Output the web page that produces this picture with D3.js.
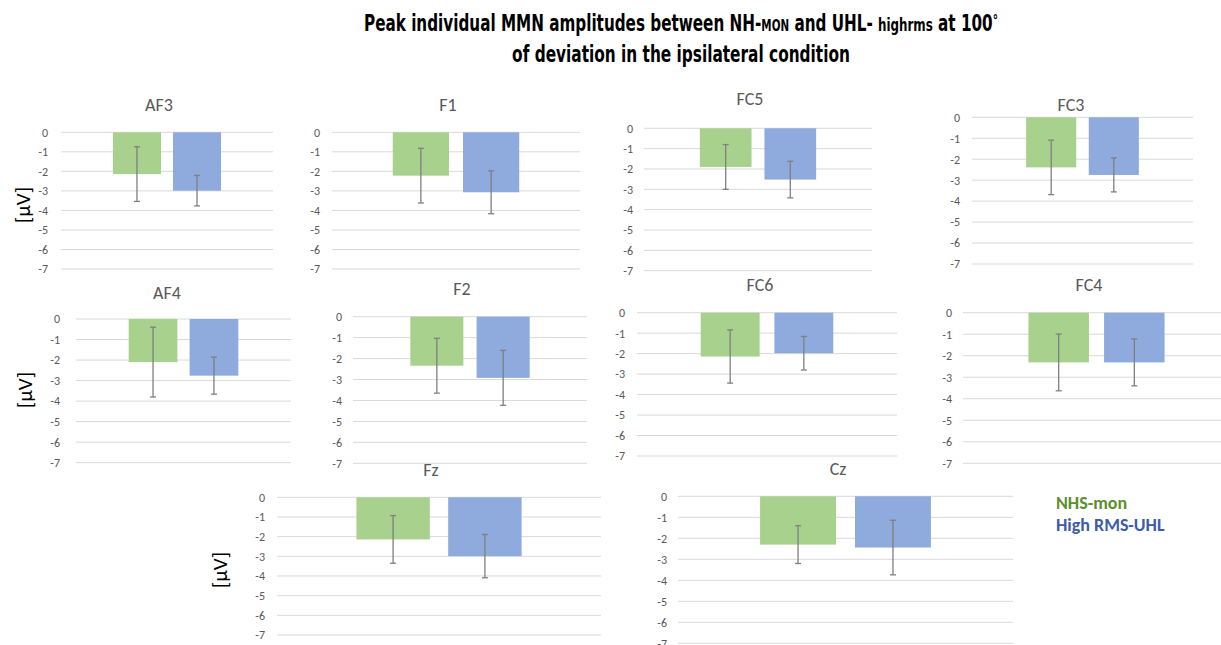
<!DOCTYPE html>
<html>
<head>
<meta charset="utf-8">
<script src="https://cdn.jsdelivr.net/npm/d3@7"></script>
<style>
  html, body { margin: 0; padding: 0; background: #fff; }
  svg { display: block; }
</style>
</head>
<body>
<svg id="chart" width="1221" height="645"></svg>
<script>
// ---------------- DATA ----------------
const electrodes = ["AF3", "F1", "FC5", "FC3", "AF4", "F2", "FC6", "FC4", "Fz", "Cz"];
const series = ["NHS-mon", "High RMS-UHL"];
const nhsMon     = [-2.14, -2.22, -1.90, -2.39, -2.10, -2.34, -2.14, -2.31, -2.14, -2.30];
const nhsMonErr  = [ 1.40,  1.40,  1.10,  1.30,  1.70,  1.31,  1.30,  1.32,  1.21,  0.90];
const highRms    = [-2.99, -3.07, -2.52, -2.75, -2.76, -2.92, -1.98, -2.31, -2.99, -2.44];
const highRmsErr = [ 0.78,  1.10,  0.90,  0.81,  0.90,  1.31,  0.82,  1.09,  1.10,  1.30];
const yTicks = [0, -1, -2, -3, -4, -5, -6, -7];
const yLabel = "[μV]";
const titleParts = [
  { t: "Peak individual MMN amplitudes between NH-", s: 1 },
  { t: "MON", s: 0.68 },
  { t: " and UHL- ", s: 1 },
  { t: "highrms", s: 0.78 },
  { t: " at 100", s: 1 },
  { t: "°", s: 0.7, sup: true }
];
const titleLine2 = "of deviation in the ipsilateral condition";

// ---------------- LAYOUT (positions only) ----------------
const layout = {
  AF3: { x0: 61,  x1: 273,  y0: 132.3, y7: 269,   tx: 159,  ty: 105, pad: 13, ylab: [23, 205] },
  F1:  { x0: 332, x1: 580,  y0: 132.3, y7: 269,   tx: 448,  ty: 105, pad: 12 },
  FC5: { x0: 644, x1: 872,  y0: 128.3, y7: 270.7, tx: 750,  ty: 99,  pad: 11 },
  FC3: { x0: 972, x1: 1193, y0: 117.3, y7: 264,   tx: 1071, ty: 105, pad: 12 },
  AF4: { x0: 76,  x1: 291,  y0: 319,   y7: 462.7, tx: 167,  ty: 293, pad: 16, ylab: [25, 390] },
  F2:  { x0: 353, x1: 587,  y0: 316.7, y7: 463.3, tx: 462,  ty: 289, pad: 11 },
  FC6: { x0: 637, x1: 897,  y0: 312.7, y7: 456,   tx: 760,  ty: 285, pad: 12 },
  FC4: { x0: 963, x1: 1230, y0: 312.7, y7: 463.3, tx: 1089, ty: 285, pad: 11 },
  Fz:  { x0: 277, x1: 601,  y0: 497.3, y7: 635,   tx: 431,  ty: 470, pad: 12, ylab: [220, 570] },
  Cz:  { x0: 678, x1: 1013, y0: 496.3, y7: 643.3, tx: 838,  ty: 469, pad: 11 }
};

const colors = { "NHS-mon": "#A9D18E", "High RMS-UHL": "#8FAADC" };
const legendColors = { "NHS-mon": "#5A8F2E", "High RMS-UHL": "#3D5CA8" };
const fontUI = "Calibri, Carlito, 'Liberation Sans', Arial, sans-serif";

const svg = d3.select("#chart");

// ---------------- TITLE ----------------
const titleFont = "'Liberation Sans Narrow', 'DejaVu Sans Condensed', 'Roboto', sans-serif";
function fitTitle(sel, target, base) {
  const w = sel.node().getComputedTextLength();
  const k = target / w;
  sel.attr("font-size", base * k);
  sel.selectAll("tspan").each(function () {
    const fs = +this.getAttribute("data-s");
    if (fs) this.setAttribute("font-size", base * k * fs);
  });
}
const tg1 = svg.append("g").attr("transform", "translate(681,31) scale(1,1.32)");
const t1 = tg1.append("text")
  .attr("x", 0).attr("y", 0)
  .attr("text-anchor", "middle")
  .attr("font-family", titleFont)
  .attr("font-weight", "bold")
  .attr("font-size", 22)
  .attr("fill", "#000");
t1.selectAll("tspan").data(titleParts).join("tspan")
  .attr("data-s", d => d.s)
  .attr("font-size", d => 22 * d.s)
  .attr("dy", d => d.sup ? -4 : null)
  .text(d => d.t);
fitTitle(t1, 634, 22);

const tg2 = svg.append("g").attr("transform", "translate(681,62) scale(1,1.32)");
const t2 = tg2.append("text")
  .attr("x", 0).attr("y", 0)
  .attr("text-anchor", "middle")
  .attr("font-family", titleFont)
  .attr("font-weight", "bold")
  .attr("font-size", 22)
  .attr("fill", "#000")
  .text(titleLine2);
fitTitle(t2, 338, 22);

// ---------------- PANELS ----------------
electrodes.forEach((name, i) => {
  const L = layout[name];
  const w = L.x1 - L.x0;
  const y = d3.scaleLinear().domain([0, -7]).range([L.y0, L.y7]);
  const x = d3.scaleBand().domain(series)
    .range([L.x0 + 0.245 * w, L.x1 - 0.245 * w])
    .paddingInner(0.2).paddingOuter(0);

  const g = svg.append("g");

  // gridlines
  g.append("g").selectAll("line").data(yTicks).join("line")
    .attr("x1", L.x0).attr("x2", L.x1)
    .attr("y1", d => y(d)).attr("y2", d => y(d))
    .attr("stroke", "#D9D9D9").attr("stroke-width", 1);

  // axis labels
  const axis = d3.axisLeft(y).tickValues(yTicks).tickSize(0).tickPadding(L.pad)
    .tickFormat(d => d === 0 ? "0" : "-" + Math.abs(d));
  const ag = g.append("g").attr("transform", `translate(${L.x0},0)`).call(axis);
  ag.select(".domain").remove();
  ag.selectAll("text")
    .attr("font-family", fontUI)
    .attr("font-size", 12)
    .attr("fill", "#595959");

  // bars
  const vals = [
    { s: series[0], v: nhsMon[i], e: nhsMonErr[i] },
    { s: series[1], v: highRms[i], e: highRmsErr[i] }
  ];
  g.append("g").selectAll("rect").data(vals).join("rect")
    .attr("x", d => x(d.s))
    .attr("width", x.bandwidth())
    .attr("y", d => y(0))
    .attr("height", d => y(d.v) - y(0))
    .attr("fill", d => colors[d.s]);

  // error bars
  const eb = g.append("g").selectAll("g").data(vals).join("g")
    .attr("stroke", "#7F7F7F").attr("stroke-width", 1.3);
  eb.append("line")
    .attr("x1", d => x(d.s) + x.bandwidth() / 2)
    .attr("x2", d => x(d.s) + x.bandwidth() / 2)
    .attr("y1", d => y(d.v + d.e)).attr("y2", d => y(d.v - d.e));
  eb.append("line")
    .attr("x1", d => x(d.s) + x.bandwidth() / 2 - 3)
    .attr("x2", d => x(d.s) + x.bandwidth() / 2 + 3)
    .attr("y1", d => y(d.v + d.e)).attr("y2", d => y(d.v + d.e));
  eb.append("line")
    .attr("x1", d => x(d.s) + x.bandwidth() / 2 - 3)
    .attr("x2", d => x(d.s) + x.bandwidth() / 2 + 3)
    .attr("y1", d => y(d.v - d.e)).attr("y2", d => y(d.v - d.e));

  // panel title
  g.append("text")
    .attr("x", L.tx).attr("y", L.ty + 6)
    .attr("text-anchor", "middle")
    .attr("font-family", fontUI)
    .attr("font-size", 18)
    .attr("fill", "#595959")
    .text(name);

  // y label
  if (L.ylab) {
    g.append("text")
      .attr("transform", `translate(${L.ylab[0] + 7},${L.ylab[1]}) rotate(-90)`)
      .attr("text-anchor", "middle")
      .attr("font-family", fontUI)
      .attr("font-size", 21)
      .attr("fill", "#000")
      .text(yLabel);
  }
});

// ---------------- LEGEND ----------------
svg.append("g").selectAll("text").data(series).join("text")
  .attr("x", 1056)
  .attr("y", (d, i) => 509 + i * 21.5)
  .attr("font-family", fontUI)
  .attr("font-weight", "bold")
  .attr("font-size", 18)
  .attr("fill", d => legendColors[d])
  .text(d => d);
</script>
</body>
</html>
